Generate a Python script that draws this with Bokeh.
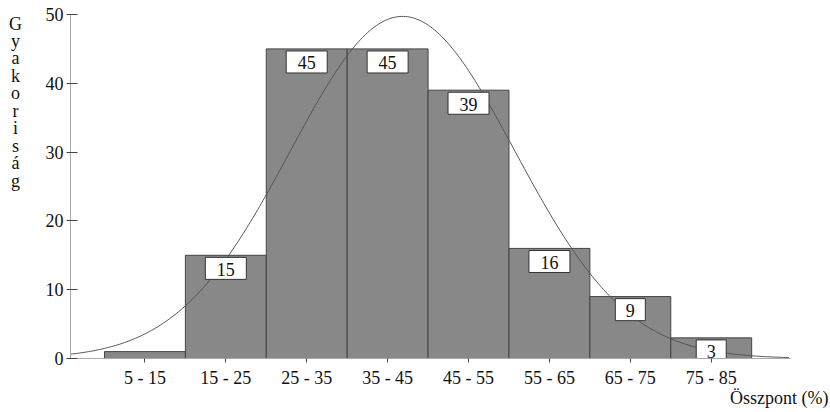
import numpy as np
from bokeh.plotting import figure
from bokeh.models import FixedTicker, Label, ColumnDataSource, Title
from bokeh.core.properties import value
from bokeh.embed import file_html
from bokeh.resources import INLINE

# Data
categories = ["5 - 15", "15 - 25", "25 - 35", "35 - 45", "45 - 55", "55 - 65", "65 - 75", "75 - 85"]
bin_lefts = [5, 15, 25, 35, 45, 55, 65, 75]
bin_rights = [15, 25, 35, 45, 55, 65, 75, 85]
frequencies = [1, 15, 45, 45, 39, 16, 9, 3]
shown_labels = ["", "15", "45", "45", "39", "16", "9", "3"]
y_ticks = [0, 10, 20, 30, 40, 50]
y_title = "Gyakoriság"
x_title = "Összpont (%)"

FONT = "Liberation Serif"

centers = [(a + b) / 2 for a, b in zip(bin_lefts, bin_rights)]
width = bin_rights[0] - bin_lefts[0]

p = figure(width=830, height=412, output_backend="svg", toolbar_location=None,
           x_range=(0.8, 89.8), y_range=(0, 50),
           min_border_left=70, min_border_right=40, min_border_top=14, min_border_bottom=54)
p.outline_line_color = None
p.grid.grid_line_color = None
p.background_fill_color = "white"

# bars
p.quad(left=bin_lefts, right=bin_rights, bottom=0, top=frequencies,
       fill_color="#888888", line_color="#444444", line_width=1)

# fitted normal curve from the histogram's own mean / sd
f = np.array(frequencies, dtype=float)
c = np.array(centers, dtype=float)
n = f.sum()
mu = (f * c).sum() / n
sd = np.sqrt((f * (c - mu) ** 2).sum() / n) * 0.99
xs = np.linspace(0.8, 89.6, 400)
ys = n * width / (sd * np.sqrt(2 * np.pi)) * np.exp(-0.5 * ((xs - mu) / sd) ** 2)
p.line(xs, ys, line_color="#555555", line_width=1)

# value boxes
lab_x = [cx for cx, s in zip(centers, shown_labels) if s]
lab_y = [v for v, s in zip(frequencies, shown_labels) if s]
lab_t = [s for s in shown_labels if s]
box_w = [41 if len(s) > 1 else 30 for s in lab_t]
src = ColumnDataSource(dict(x=lab_x, y=[v - 0.3 - 1.6 for v in lab_y], t=lab_t, w=box_w))
p.rect(x="x", y="y", width="w", width_units="screen", height=22, height_units="screen",
       source=src, fill_color="white", line_color="#333333", line_width=1)
p.text(x="x", y="y", text="t", source=src, text_align="center", text_baseline="middle",
       text_font=value(FONT), text_font_size="18px", text_color="#111111", y_offset=1)

# axes
p.xaxis.ticker = FixedTicker(ticks=centers)
p.xaxis.major_label_overrides = {cx: lab for cx, lab in zip(centers, categories)}
p.xaxis.major_label_text_font = FONT
p.xaxis.major_label_text_font_size = "18px"
p.xaxis.major_label_text_color = "#111111"
p.xaxis.axis_line_color = "#aaaaaa"
p.xaxis.major_tick_line_color = "#444444"
p.xaxis.major_tick_in = 0
p.xaxis.major_tick_out = 4
p.xaxis.minor_tick_line_color = None
p.xaxis.major_label_standoff = 5

p.yaxis.ticker = FixedTicker(ticks=y_ticks)
p.yaxis.major_label_text_font = FONT
p.yaxis.major_label_text_font_size = "18px"
p.yaxis.major_label_text_color = "#111111"
p.yaxis.axis_line_color = "#aaaaaa"
p.yaxis.major_tick_line_color = "#444444"
p.yaxis.major_tick_in = 7
p.yaxis.major_tick_out = 4
p.yaxis.minor_tick_line_color = None
p.yaxis.major_label_standoff = 3

# axis titles
p.add_layout(Label(x=-14, y=345, x_units="screen", y_units="screen",
                   text="\n".join(y_title), text_align="center", text_baseline="top",
                   text_font=FONT, text_font_size="18px", text_line_height=0.873,
                   text_color="#111111"), "left")
try:
    xt = Title(text=x_title, align="right", offset=-38, standoff=-9,
               text_font=FONT, text_font_size="18px", text_font_style="normal",
               text_color="#111111")
except Exception:
    xt = Title(text=x_title, align="right", offset=-38, standoff=0,
               text_font=FONT, text_font_size="18px", text_font_style="normal",
               text_color="#111111")
p.add_layout(xt, "below")

open("out.html", "w").write(file_html(p, INLINE))
